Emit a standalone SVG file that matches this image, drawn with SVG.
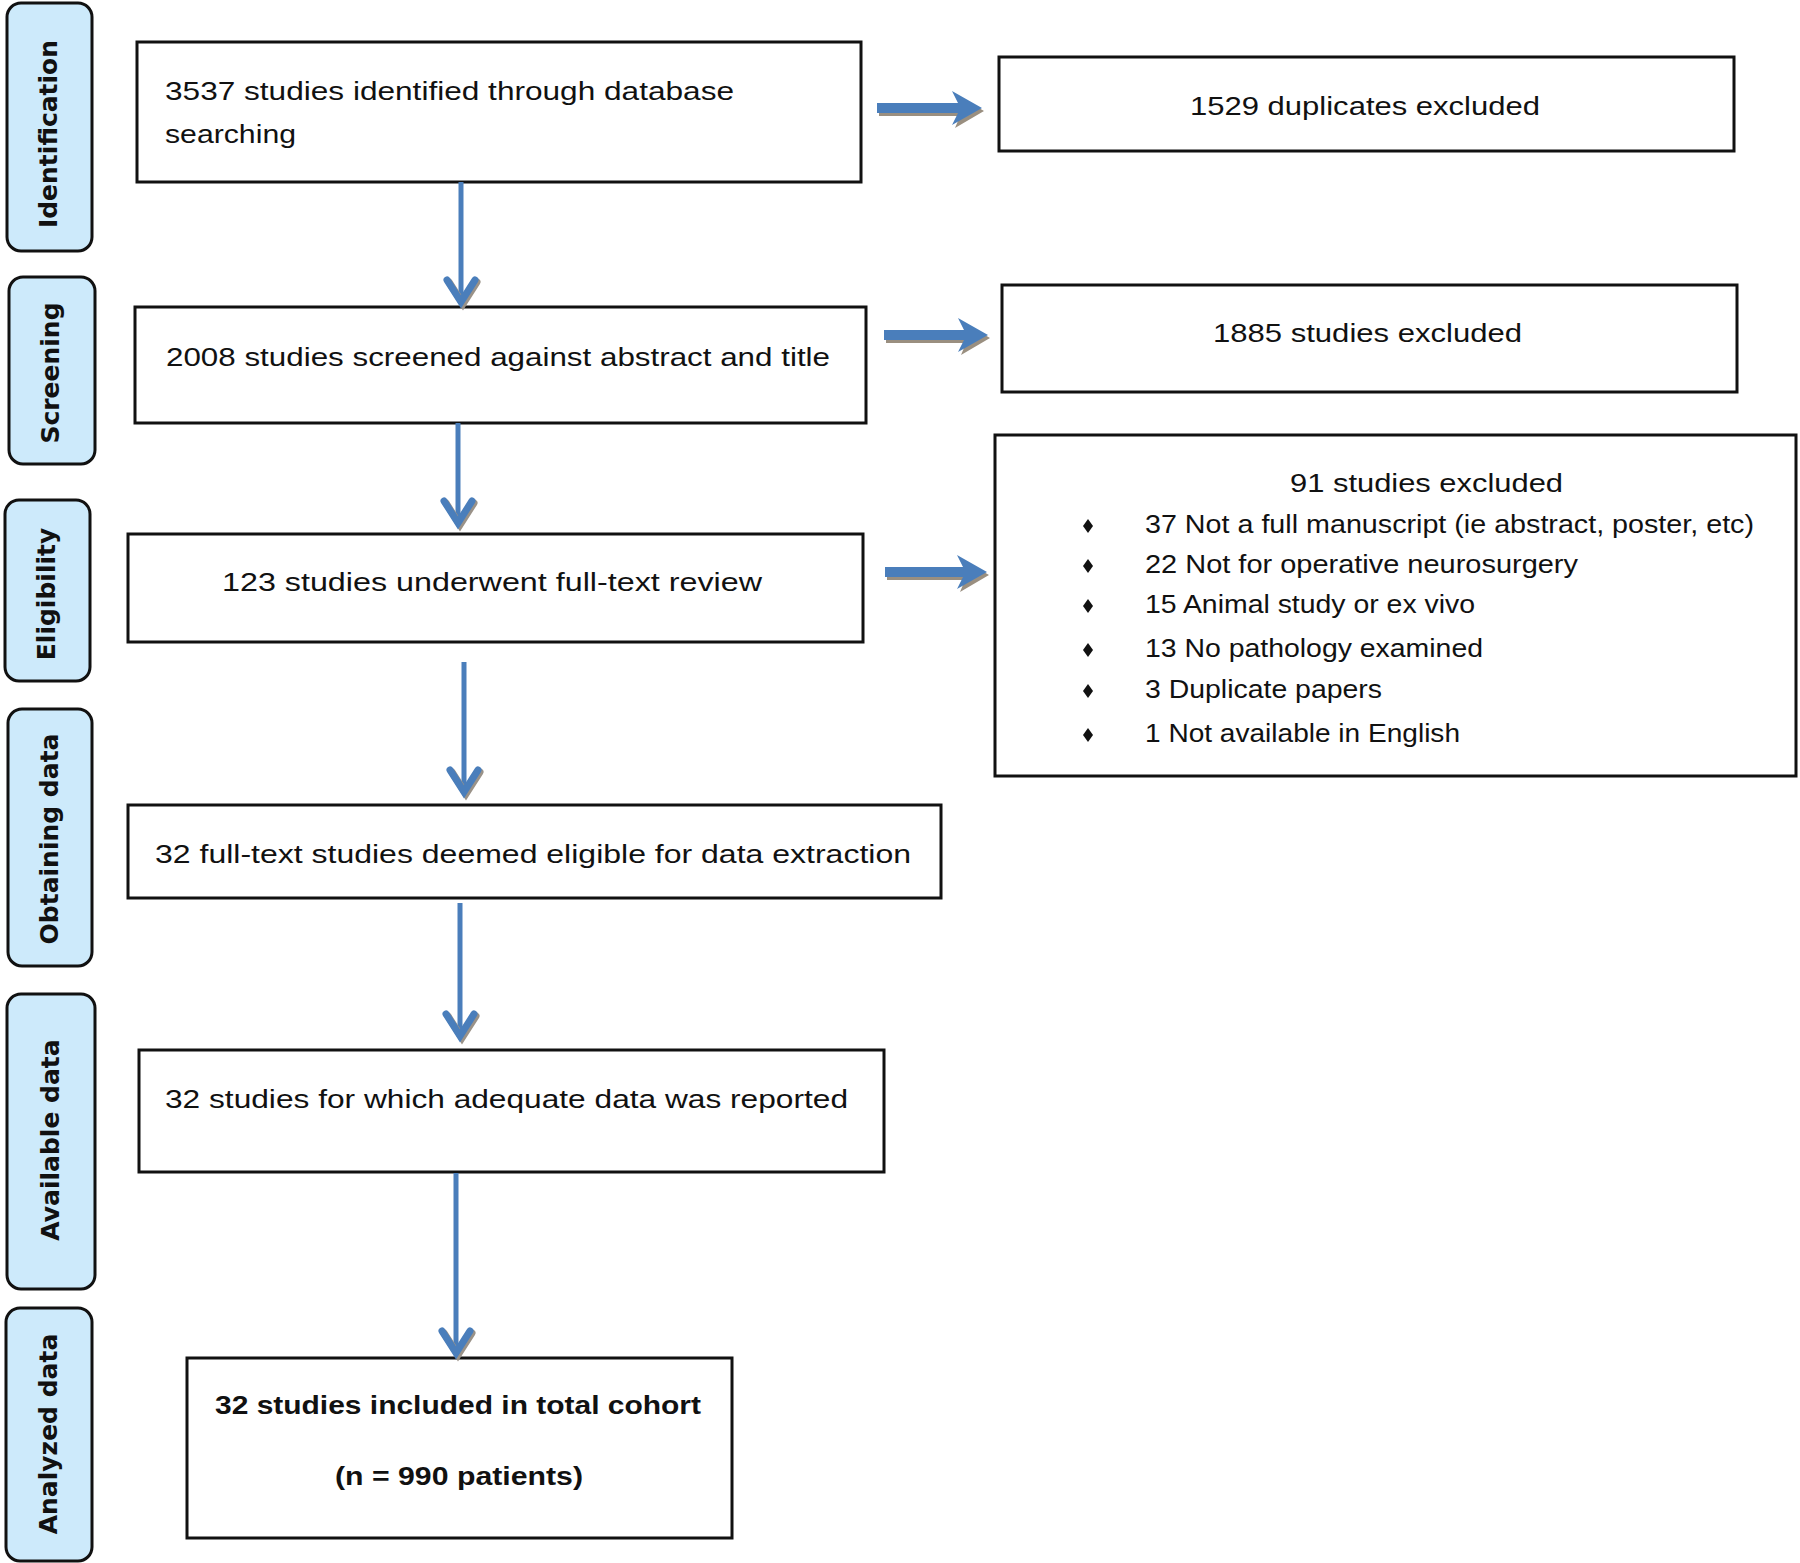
<svg xmlns="http://www.w3.org/2000/svg" width="1800" height="1563" viewBox="0 0 1800 1563">
<style>
.bg{fill:#ffffff}
.side rect{fill:#cdeafb;stroke:#111;stroke-width:3}
.side text{font-family:"DejaVu Sans",Verdana,sans-serif;font-weight:bold;font-size:25px;fill:#111;text-anchor:middle}
.box rect{fill:#fff;stroke:#111;stroke-width:3}
.box text{font-family:"Liberation Sans",Arial,sans-serif;font-size:25px;fill:#111}
.bold text{font-weight:bold}
.vline{stroke:#4a7ebb;stroke-width:5;fill:none}
.vhead{stroke:#4a7ebb;stroke-width:7;fill:none;stroke-linecap:round;stroke-linejoin:miter}
.vshadow{stroke:#9a9288;stroke-width:7;fill:none;stroke-linecap:round}
.harrow{fill:#4a7ebb}
.hshadow{fill:#9a8f80}
.bullet{fill:#111}
</style>
<rect class="bg" x="0" y="0" width="1800" height="1563"/>

<g id="stage-identification" class="side">
<rect x="7" y="3" width="85" height="248" rx="14"/>
<text transform="translate(57,134) rotate(-90)">Identification</text>
</g>
<g id="stage-screening" class="side">
<rect x="9" y="277" width="86" height="187" rx="14"/>
<text transform="translate(59,373) rotate(-90)">Screening</text>
</g>
<g id="stage-eligibility" class="side">
<rect x="5" y="500" width="85" height="181" rx="14"/>
<text transform="translate(55,594) rotate(-90)">Eligibility</text>
</g>
<g id="stage-obtaining" class="side">
<rect x="8" y="709" width="84" height="257" rx="14"/>
<text transform="translate(58,839) rotate(-90)">Obtaining data</text>
</g>
<g id="stage-available" class="side">
<rect x="7" y="994" width="88" height="295" rx="14"/>
<text transform="translate(59,1140) rotate(-90)">Available data</text>
</g>
<g id="stage-analyzed" class="side">
<rect x="6" y="1308" width="86" height="253" rx="14"/>
<text transform="translate(57,1434) rotate(-90)">Analyzed data</text>
</g>

<g id="node-identified" class="box">
<rect x="137" y="42" width="724" height="140"/>
<text x="165" y="100" textLength="569" lengthAdjust="spacingAndGlyphs">3537 studies identified through database</text>
<text x="165" y="143" textLength="131" lengthAdjust="spacingAndGlyphs">searching</text>
</g>
<g id="node-screened" class="box">
<rect x="135" y="307" width="731" height="116"/>
<text x="166" y="366" textLength="664" lengthAdjust="spacingAndGlyphs">2008 studies screened against abstract and title</text>
</g>
<g id="node-fulltext" class="box">
<rect x="128" y="534" width="735" height="108"/>
<text x="222" y="591" textLength="540" lengthAdjust="spacingAndGlyphs">123 studies underwent full-text review</text>
</g>
<g id="node-eligible" class="box">
<rect x="128" y="805" width="813" height="93"/>
<text x="155" y="863" textLength="756" lengthAdjust="spacingAndGlyphs">32 full-text studies deemed eligible for data extraction</text>
</g>
<g id="node-adequate" class="box">
<rect x="139" y="1050" width="745" height="122"/>
<text x="165" y="1108" textLength="683" lengthAdjust="spacingAndGlyphs">32 studies for which adequate data was reported</text>
</g>
<g id="node-included" class="box bold">
<rect x="187" y="1358" width="545" height="180"/>
<text x="215" y="1414" textLength="486" lengthAdjust="spacingAndGlyphs">32 studies included in total cohort</text>
<text x="335" y="1485" textLength="248" lengthAdjust="spacingAndGlyphs">(n = 990 patients)</text>
</g>
<g id="node-duplicates" class="box">
<rect x="999" y="57" width="735" height="94"/>
<text x="1190" y="115" textLength="350" lengthAdjust="spacingAndGlyphs">1529 duplicates excluded</text>
</g>
<g id="node-excluded1885" class="box">
<rect x="1002" y="285" width="735" height="107"/>
<text x="1213" y="342" textLength="309" lengthAdjust="spacingAndGlyphs">1885 studies excluded</text>
</g>
<g id="node-excluded91" class="box">
<rect x="995" y="435" width="801" height="341"/>
<text x="1290" y="492" textLength="273" lengthAdjust="spacingAndGlyphs">91 studies excluded</text>
<path class="bullet" d="M1088 519 l5 7 l-5 7 l-5 -7 z"/>
<text x="1145" y="533" textLength="609" lengthAdjust="spacingAndGlyphs">37 Not a full manuscript (ie abstract, poster, etc)</text>
<path class="bullet" d="M1088 559 l5 7 l-5 7 l-5 -7 z"/>
<text x="1145" y="573" textLength="433" lengthAdjust="spacingAndGlyphs">22 Not for operative neurosurgery</text>
<path class="bullet" d="M1088 599 l5 7 l-5 7 l-5 -7 z"/>
<text x="1145" y="613" textLength="330" lengthAdjust="spacingAndGlyphs">15 Animal study or ex vivo</text>
<path class="bullet" d="M1088 643 l5 7 l-5 7 l-5 -7 z"/>
<text x="1145" y="657" textLength="338" lengthAdjust="spacingAndGlyphs">13 No pathology examined</text>
<path class="bullet" d="M1088 684 l5 7 l-5 7 l-5 -7 z"/>
<text x="1145" y="698" textLength="237" lengthAdjust="spacingAndGlyphs">3 Duplicate papers</text>
<path class="bullet" d="M1088 728 l5 7 l-5 7 l-5 -7 z"/>
<text x="1145" y="742" textLength="315" lengthAdjust="spacingAndGlyphs">1 Not available in English</text>
</g>

<g id="connectors">
<!-- vertical arrows -->
<g>
<line class="vline" x1="461" y1="182" x2="461" y2="302"/>
<polyline class="vshadow" points="449,282 463,304 477,282"/>
<polyline class="vhead" points="447,280 461,302 475,280"/>
</g>
<g>
<line class="vline" x1="458" y1="423" x2="458" y2="523"/>
<polyline class="vshadow" points="446,503 460,525 474,503"/>
<polyline class="vhead" points="444,501 458,523 472,501"/>
</g>
<g>
<line class="vline" x1="464" y1="662" x2="464" y2="792"/>
<polyline class="vshadow" points="452,772 466,794 480,772"/>
<polyline class="vhead" points="450,770 464,792 478,770"/>
</g>
<g>
<line class="vline" x1="460" y1="903" x2="460" y2="1036"/>
<polyline class="vshadow" points="448,1016 462,1038 476,1016"/>
<polyline class="vhead" points="446,1014 460,1036 474,1014"/>
</g>
<g>
<line class="vline" x1="456" y1="1173" x2="456" y2="1353"/>
<polyline class="vshadow" points="444,1333 458,1355 472,1333"/>
<polyline class="vhead" points="442,1331 456,1353 470,1331"/>
</g>
<!-- horizontal arrows -->
<g>
<path class="hshadow" d="M879 106 H960 L955 94 L984 111 L955 128 L960 116 H879 Z"/>
<path class="harrow" d="M877 103 H958 L952 91 L982 108 L952 125 L958 113 H877 Z"/>
</g>
<g>
<path class="hshadow" d="M886 333 H966 L961 321 L990 338 L961 355 L966 343 H886 Z"/>
<path class="harrow" d="M884 330 H964 L958 318 L988 335 L958 352 L964 340 H884 Z"/>
</g>
<g>
<path class="hshadow" d="M887 570 H965 L960 558 L989 575 L960 592 L965 580 H887 Z"/>
<path class="harrow" d="M885 567 H963 L957 555 L987 572 L957 589 L963 577 H885 Z"/>
</g>
</g>
</svg>
